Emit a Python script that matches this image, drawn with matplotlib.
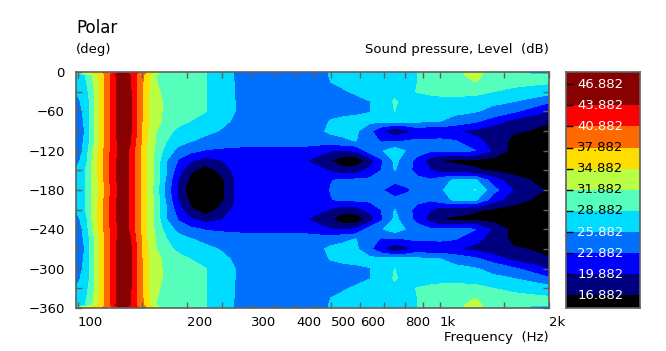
import numpy as np
import matplotlib
matplotlib.use('Agg')
import matplotlib.pyplot as plt
from matplotlib.colors import ListedColormap

freq = [98.8, 104, 110, 116, 122, 129, 137, 145, 154, 164, 176, 190, 205, 225, 250, 275, 300, 340, 380,
        420, 460, 500, 540, 585, 640, 690, 750, 810, 870, 940, 1000, 1100, 1250, 1400, 1600, 1800, 2000]
polar = [0, -4, -15, -30, -45, -60, -75, -90, -105, -120, -135, -150, -165, -180,
         -195, -210, -225, -240, -255, -270, -285, -300, -315, -330, -345, -356, -360]

# level per polar angle
p0 = [30, 36, 36.5, 37.5, 39, 41.5, 43, 41.5, 38, 33, 31, 30.4, 29.8, 29, 27, 25.5, 25, 25, 25,
      25, 25.4, 26, 26.8, 27.3, 27.6, 27.8, 28, 28.4, 28.9, 29.6, 30.2, 31.3, 32.6, 30.8, 29, 21, 15]
p4 = [27, 28.4, 32.4, 36.4, 40.4, 45, 45, 40.9, 36.9, 31.9, 31, 30.4, 29.8, 29, 27, 25.5, 25, 25, 25,
      25, 25.4, 26, 26.8, 27.3, 27.6, 27.8, 28, 28.4, 28.9, 29.6, 30.2, 31.3, 32.6, 30.8, 30.5, 30, 29.5]
p15 = [26.5, 27.8, 31.8, 36, 40.4, 44.5, 45.5, 41, 36.5, 32, 31, 30.4, 29.9, 29, 27, 25.6, 25, 24.8, 24.8,
       25, 25.4, 25.9, 26.5, 27.2, 27.6, 27.9, 28.2, 28.6, 28.9, 29.6, 30.2, 31, 31.9, 30.8, 30, 29.6, 29.3]
p30 = [25.9, 27, 31, 36, 40.3, 44.5, 45.8, 41, 36, 32.3, 31.2, 30.5, 29.9, 29, 27, 25.6, 24.9, 24.6, 24.5,
       24.6, 24.9, 25.2, 25.6, 26.2, 27, 27.6, 28, 28.5, 29, 29.6, 30, 30.2, 30, 28.9, 28, 27.5, 27.1]
p45 = [25.2, 26.5, 30.6, 36, 40.3, 44.6, 46, 41, 35.8, 32.5, 31.4, 30.7, 30, 29, 27.1, 25.7, 24.9, 24.5, 24.3,
       24.3, 24.4, 24.6, 24.9, 25.2, 25.8, 27.2, 29.2, 27.7, 27.5, 27.5, 27.5, 27.5, 27.1, 26.5, 25.9, 24.9, 23.3]
p60 = [24.6, 26.3, 30.7, 36, 40.3, 44.5, 46, 40.9, 35.8, 32.5, 31.4, 30.8, 30, 29, 27.2, 25.7, 24.9, 24.5, 24.3,
       24.3, 24.4, 24.6, 25, 25.4, 25.8, 27, 28.9, 27, 27, 27, 26.9, 26.6, 26.1, 25, 23.3, 21.5, 19.8]
p75 = [24.3, 26, 30.6, 36, 40.3, 44.5, 46, 40.9, 35.8, 32.5, 31.2, 29.9, 28.8, 27.5, 26.3, 25.5, 24.9, 24.6, 24.4,
       24.4, 24.8, 26.1, 26.6, 26.6, 26.5, 26.8, 26.9, 26.7, 26.4, 26.1, 25.9, 24.8, 23.4, 21.4, 18.8, 17.7, 17.2]
p90 = [24.2, 25.8, 30.6, 36, 40.3, 44.5, 46, 40.9, 35.6, 32, 29.8, 28, 27.2, 26.4, 25.7, 25.2, 24.8, 24.6, 24.4,
       24.5, 25.2, 26.5, 26.8, 26.4, 23.6, 20, 17.2, 19, 21, 20.3, 20.5, 20.2, 19, 18, 17.2, 16.7, 15.5]
p105 = [24.3, 26, 30.6, 36, 40.3, 44.3, 45.8, 40.6, 35.3, 31.8, 28.9, 27, 26, 25.3, 24.8, 24.4, 24.2, 24, 24,
        24, 24, 24.6, 25.3, 26, 24, 22.5, 22.4, 22.9, 23.3, 23.3, 23.5, 23, 20.7, 18.7, 16, 15.5, 15]
p120 = [24.5, 26.4, 31.9, 36.7, 40.5, 44.2, 44.5, 39.9, 35.3, 31.2, 27.4, 24.9, 23.7, 22.6, 22.2, 22, 22, 22, 22,
        22, 21.4, 20, 19.8, 20.2, 24.5, 25.6, 27.5, 25.6, 24.5, 23.5, 23.2, 23.6, 23, 19.4, 15.8, 15, 14.5]
p135 = [25, 26.8, 32.5, 36.8, 40.7, 44.3, 44.4, 39.9, 35.3, 30.7, 25.9, 22.5, 20.2, 18.6, 19.8, 21, 21.3, 21.4, 21,
        20.3, 18.5, 16.8, 15, 14.8, 18, 22.5, 26.5, 24.5, 21.5, 18.5, 16.7, 16.4, 16.2, 15.8, 15.5, 15, 14.5]
p150 = [26, 28.2, 32.4, 36.8, 40.8, 44.3, 44.3, 39.9, 35.4, 30.7, 25.9, 20.9, 17.4, 15, 18, 21, 21.5, 21.8, 21.8,
        21.3, 20.8, 19.5, 18, 18.4, 20.8, 23, 26, 23.5, 22, 20, 18.5, 18, 17.2, 16.5, 15.5, 15, 14.5]
p165 = [26.6, 28.3, 32.3, 36.5, 40.6, 44.3, 44.3, 39.9, 35.4, 30.7, 25, 19.6, 15.8, 14.5, 16.3, 20.5, 21.5, 21.6, 21.7,
        21.8, 22.3, 22.8, 23.3, 23.5, 23.5, 23.4, 23.5, 23.3, 23.5, 23.2, 24.5, 26.4, 26.5, 21.3, 18.2, 16.7, 14.5]
p180 = [26.4, 28.3, 32.4, 36.4, 40.4, 44.2, 44.2, 39.9, 35.4, 30.4, 24.5, 19, 15, 14, 16, 20.5, 21.2, 21.3, 21.5,
        21.6, 22, 23, 23.4, 23.5, 23.2, 23, 21.5, 22.7, 23.2, 24.2, 25.4, 27.5, 28.9, 24, 19.5, 17.5, 16.6]

level = [p0, p4, p15, p30, p45, p60, p75, p90, p105, p120, p135, p150, p165, p180,
         p165, p150, p135, p120, p105, p90, p75, p60, p45, p30, p15, p4, p0]

contours = [16.882, 19.882, 22.882, 25.882, 28.882, 31.882, 34.882, 37.882, 40.882, 43.882]
band_colors = ['#000000', '#00007f', '#0000ff', '#0070ff', '#00dcff', '#55ffbb',
               '#bbff44', '#ffdd00', '#ff6a00', '#ff0000', '#880000']
bar_labels = ['16.882', '19.882', '22.882', '25.882', '28.882', '31.882', '34.882', '37.882', '40.882', '43.882', '46.882']
bar_values = [16.882, 19.882, 22.882, 25.882, 28.882, 31.882, 34.882, 37.882, 40.882, 43.882, 46.882]
bar_text_colors = ['white', 'white', 'white', 'white', 'black', 'black', 'black', 'black', 'white', 'white', 'white']
bar_tick_colors = ['#8a8a8a', '#c8a000', '#a09030', '#d0a020', '#a06050', '#d05030', '#3050c0', '#3060c0', '#909090', '#40a0a0', '#40a0a0']

freq_ticks = [100, 150, 200, 250, 300, 350, 400, 450, 500, 600, 700, 800, 900, 1000, 1500, 2000]
freq_labels = ['100', '', '200', '', '300', '', '400', '', '500', '600', '', '800', '', '1k', '', '2k']
angle_ticks = [0, -60, -120, -180, -240, -300, -360]
angle_minor = [-30, -90, -150, -210, -270, -330]

W, H = 666, 351
EDGE = '#606060'
plt.rcParams['font.family'] = 'DejaVu Sans'
plt.rcParams['font.size'] = 9.5

fig = plt.figure(figsize=(W / 100, H / 100), dpi=100)
ax = fig.add_axes([76 / W, (H - 308) / H, (549 - 76) / W, (308 - 72) / H])

cf = ax.contourf(freq, polar, np.array(level), levels=contours, colors=band_colors[1:-1], extend='both')
cf.cmap.set_under(band_colors[0])
cf.cmap.set_over(band_colors[-1])
cf.changed()

ax.set_xscale('log')
ax.set_xlim(98.8, 2000)
ax.set_ylim(-360, 0)
ax.set_xticks(freq_ticks, freq_labels, ha='left')
ax.xaxis.set_minor_locator(plt.NullLocator())
ax.set_yticks(angle_ticks)
ax.set_yticks(angle_minor, minor=True)
ax.tick_params(which='both', direction='in', length=4, width=1, color=EDGE, top=True, right=True, labelsize=9.5)
ax.tick_params(axis='x', pad=6)
ax.tick_params(axis='y', pad=8)
for s in ax.spines.values():
    s.set_color(EDGE)
    s.set_linewidth(1.2)

fig.text(76 / W, 1 - 28 / H, 'Polar', fontsize=12, ha='left', va='center')
fig.text(76 / W, 1 - 50 / H, '(deg)', ha='left', va='center')
fig.text(549 / W, 1 - 50 / H, 'Sound pressure, Level  (dB)', ha='right', va='center')
fig.text(549 / W, 1 - 338 / H, 'Frequency  (Hz)', ha='right', va='center')

# colour bar on its own axes
cax = fig.add_axes([566 / W, (H - 308) / H, (640 - 566) / W, (308 - 72) / H])
edges = [15.1] + contours + [48.6]
cax.pcolormesh([0, 1], edges, np.arange(11).reshape(-1, 1), cmap=ListedColormap(band_colors), vmin=0, vmax=10)
cax.set_xlim(0, 1)
cax.set_ylim(15.1, 48.6)
cax.set_xticks([])
cax.set_yticks(bar_values, [])
cax.tick_params(axis='y', direction='in', length=5, width=1)
for t, c in zip(cax.yaxis.get_major_ticks(), bar_tick_colors):
    t.tick1line.set_color(c)
for v, lab, c in zip(bar_values, bar_labels, bar_text_colors):
    cax.text(0.15, v, lab, color=c, ha='left', va='center', fontsize=9.5)
for s in cax.spines.values():
    s.set_color(EDGE)
    s.set_linewidth(1.2)

fig.savefig('out.png', dpi=100)
